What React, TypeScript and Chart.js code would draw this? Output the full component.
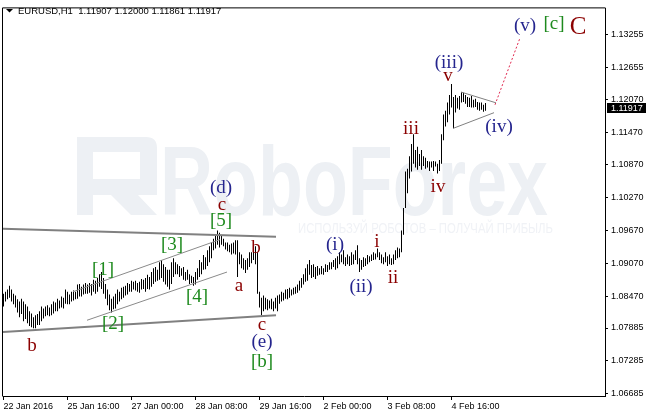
import React, { useEffect, useRef } from "react";
import { Chart, registerables } from "chart.js";

Chart.register(...registerables);

// ---------- data ----------
const symbol = "EURUSD,H1";
const lastQuote = [1.11907, 1.12, 1.11861, 1.11917];
const currentPrice = 1.11917;

const barHighs = [
  1.0851, 1.0855, 1.0859, 1.0866, 1.0859, 1.0851, 1.0848, 1.0841, 1.0837, 1.0842,
  1.0837, 1.0832, 1.0828, 1.0819, 1.0815, 1.0808, 1.0812, 1.0814, 1.0819, 1.0828,
  1.0824, 1.0828, 1.083, 1.0826, 1.0832, 1.0837, 1.0835, 1.0842, 1.0839, 1.0846,
  1.0844, 1.0859, 1.0855, 1.085, 1.0855, 1.0857, 1.0855, 1.0868, 1.0869, 1.0864,
  1.0868, 1.0871, 1.0868, 1.0871, 1.0869, 1.0877, 1.0875, 1.088, 1.0887, 1.0891,
  1.088, 1.0869, 1.0859, 1.085, 1.0842, 1.0846, 1.0851, 1.0859, 1.0855, 1.0862,
  1.0864, 1.0866, 1.0871, 1.0869, 1.0875, 1.0873, 1.0875, 1.0871, 1.0873, 1.0878,
  1.0877, 1.088, 1.0886, 1.0882, 1.0891, 1.0898, 1.09, 1.0895, 1.0909, 1.0913,
  1.0905, 1.09, 1.0895, 1.0895, 1.0909, 1.0916, 1.0909, 1.0905, 1.0902, 1.0898,
  1.09, 1.0891, 1.0895, 1.0887, 1.0884, 1.0882, 1.0891, 1.0898, 1.0913, 1.0909,
  1.0922, 1.0918, 1.0931, 1.0938, 1.0945, 1.0952, 1.0959, 1.0967, 1.0963, 1.0958,
  1.0952, 1.0945, 1.0945, 1.0941, 1.0943, 1.0945, 1.0949, 1.0949, 1.0927, 1.0923,
  1.0916, 1.0913, 1.0916, 1.0927, 1.0927, 1.0936, 1.0938, 1.0927, 1.0855, 1.0844,
  1.0848, 1.0844, 1.0841, 1.0839, 1.0842, 1.0837, 1.0844, 1.0848, 1.085, 1.0855,
  1.0853, 1.0859, 1.086, 1.0862, 1.0859, 1.0862, 1.0864, 1.0868, 1.0875, 1.088,
  1.0887, 1.0898, 1.0905, 1.0913, 1.0904, 1.0905, 1.09, 1.0902, 1.0898, 1.0902,
  1.0898, 1.0905, 1.0904, 1.0909, 1.0909, 1.0913, 1.0916, 1.092, 1.0927, 1.0923,
  1.0931, 1.0918, 1.0923, 1.092, 1.0927, 1.0923, 1.0931, 1.094, 1.0916, 1.0913,
  1.0918, 1.0916, 1.0922, 1.092, 1.0923, 1.0927, 1.0925, 1.0934, 1.0927, 1.0923,
  1.0918, 1.0927, 1.092, 1.0923, 1.0916, 1.0923, 1.0931, 1.0936, 1.0934, 1.0967,
  1.1008, 1.1075, 1.108, 1.1103, 1.1125, 1.1143, 1.1114, 1.112, 1.1107, 1.1114,
  1.1103, 1.11, 1.1094, 1.1093, 1.1093, 1.1094, 1.1093, 1.1089, 1.1096, 1.1143,
  1.1179, 1.1186, 1.1201, 1.1215, 1.1235, 1.1211, 1.1215, 1.121, 1.1213, 1.122,
  1.1219, 1.1215, 1.1211, 1.121, 1.1213, 1.1206, 1.1208, 1.1202, 1.1201, 1.1201,
  1.1197, 1.12,
];

const barLows = [
  1.0828, 1.0837, 1.0841, 1.0844, 1.0837, 1.0832, 1.0826, 1.0817, 1.0808, 1.0814,
  1.0801, 1.0805, 1.0797, 1.0792, 1.079, 1.0788, 1.0788, 1.0794, 1.0794, 1.0801,
  1.0806, 1.081, 1.0812, 1.081, 1.0812, 1.0815, 1.0819, 1.0819, 1.0824, 1.0826,
  1.0824, 1.0833, 1.0832, 1.0832, 1.0837, 1.0839, 1.0841, 1.0842, 1.0846, 1.0846,
  1.085, 1.0851, 1.0851, 1.0853, 1.0848, 1.0855, 1.0851, 1.0855, 1.0864, 1.086,
  1.0851, 1.0842, 1.083, 1.0821, 1.0817, 1.0823, 1.0824, 1.0832, 1.0837, 1.0841,
  1.0844, 1.0848, 1.085, 1.0855, 1.0855, 1.0859, 1.0857, 1.0855, 1.0853, 1.0859,
  1.086, 1.0855, 1.086, 1.0859, 1.0864, 1.0869, 1.0873, 1.0875, 1.0877, 1.088,
  1.0873, 1.0868, 1.0864, 1.0859, 1.0869, 1.0882, 1.0887, 1.0887, 1.0882, 1.0884,
  1.0877, 1.0875, 1.0877, 1.0869, 1.0871, 1.0866, 1.0868, 1.0877, 1.0882, 1.0887,
  1.0895, 1.0896, 1.0902, 1.0909, 1.0916, 1.0931, 1.0934, 1.0941, 1.0936, 1.0941,
  1.0938, 1.0932, 1.0929, 1.0927, 1.0923, 1.0925, 1.0923, 1.0882, 1.0905, 1.0898,
  1.0895, 1.0889, 1.0895, 1.09, 1.0907, 1.0913, 1.0905, 1.0851, 1.0826, 1.0812,
  1.0819, 1.0823, 1.0821, 1.0824, 1.0823, 1.0819, 1.0824, 1.0819, 1.0833, 1.0837,
  1.0839, 1.0842, 1.0841, 1.0844, 1.0848, 1.085, 1.0851, 1.0853, 1.0857, 1.0862,
  1.0868, 1.0873, 1.0875, 1.0886, 1.088, 1.0882, 1.0878, 1.0884, 1.0886, 1.0887,
  1.0886, 1.0891, 1.0891, 1.0895, 1.0896, 1.09, 1.0895, 1.0898, 1.0905, 1.0909,
  1.0905, 1.0902, 1.0905, 1.0902, 1.0904, 1.0905, 1.0913, 1.0905, 1.0891, 1.0895,
  1.09, 1.0902, 1.0905, 1.0909, 1.0911, 1.0913, 1.0914, 1.0918, 1.0913, 1.0907,
  1.0905, 1.0909, 1.0902, 1.0905, 1.0904, 1.0905, 1.0913, 1.0916, 1.0918, 1.0927,
  1.0959, 1.1008, 1.1035, 1.1062, 1.1075, 1.1089, 1.1082, 1.1078, 1.1085, 1.1078,
  1.1085, 1.108, 1.1082, 1.1076, 1.1082, 1.1076, 1.1084, 1.1071, 1.1076, 1.1089,
  1.1132, 1.1157, 1.1165, 1.1179, 1.1192, 1.1154, 1.1183, 1.119, 1.1188, 1.1201,
  1.1202, 1.1199, 1.1193, 1.1193, 1.1192, 1.1192, 1.1193, 1.1188, 1.1186, 1.1188,
  1.1184, 1.1186,
];

const yTickValues = [
  1.13255, 1.12655, 1.1207, 1.1147, 1.1087, 1.1027, 1.0967, 1.0907, 1.0847, 1.07885,
  1.07285, 1.06685,
];
const xTickIndex = [0, 32, 64, 96, 128, 160, 192, 224];
const xTickLabels = [
  "22 Jan 2016",
  "25 Jan 16:00",
  "27 Jan 00:00",
  "28 Jan 08:00",
  "29 Jan 16:00",
  "2 Feb 00:00",
  "3 Feb 08:00",
  "4 Feb 16:00",
];
const yMin = 1.06641;
const yMax = 1.13733;
const xMin = -0.25;
const xMax = 300.75;

// trend lines (bar index, price)
const triangleTopLine = [{ x: -0.25, y: 1.09701 }, { x: 136.25, y: 1.09557 }];
const triangleBottomLine = [{ x: -0.25, y: 1.07811 }, { x: 136.25, y: 1.08117 }];
const channelTopLine = [{ x: 34.75, y: 1.08549 }, { x: 108.25, y: 1.09503 }];
const channelBottomLine = [{ x: 41.75, y: 1.08027 }, { x: 111.75, y: 1.08909 }];
const smallTriTop = [{ x: 228.75, y: 1.12203 }, { x: 246.25, y: 1.12005 }];
const smallTriBottom = [{ x: 224.75, y: 1.11537 }, { x: 245.25, y: 1.11825 }];
const forecastPath = [{ x: 245.75, y: 1.11969 }, { x: 258.25, y: 1.13193 }];

const NAVY = "#25258e";
const RED = "#8b0000";
const GREEN = "#1e8a1e";

const waveText = ["b", "[1]", "[2]", "[3]", "[4]", "[5]", "c", "(d)", "a", "b", "c", "(e)", "[b]", "(i)", "i", "(ii)", "ii", "iii", "iv", "(iii)", "v", "(iv)", "(v)", "[c]", "C"];
const waveX = [14.25, 49.75, 54.75, 84.25, 96.75, 108.75, 109.25, 108.75, 117.75, 126.25, 129.25, 129.25, 129.25, 165.75, 186.75, 178.75, 194.75, 203.75, 217.25, 222.75, 222.25, 247.75, 260.75, 275.25, 287.25];
const waveY = [1.07577, 1.08945, 1.07955, 1.09395, 1.08459, 1.09845, 1.10133, 1.10439, 1.08639, 1.09377, 1.07937, 1.07613, 1.07271, 1.09395, 1.09485, 1.08621, 1.08819, 1.11555, 1.10493, 1.12725, 1.12491, 1.11555, 1.13409, 1.13445, 1.13427];
const waveColor = [RED, GREEN, GREEN, GREEN, GREEN, GREEN, RED, NAVY, RED, RED, RED, NAVY, GREEN, NAVY, RED, NAVY, RED, RED, RED, NAVY, RED, NAVY, NAVY, GREEN, RED];

const SANS = '"Liberation Sans", Arial, sans-serif';
const SERIF = '"Liberation Serif", "Times New Roman", serif';

const decorPlugin = {
  id: "decor",
  beforeDatasetsDraw(chart: any) {
    const ctx = chart.ctx;
    ctx.save();
    ctx.fillStyle = "#edf0f4";
    ctx.beginPath();
    ctx.moveTo(77, 137);
    ctx.lineTo(146, 137);
    ctx.quadraticCurveTo(157, 137, 157, 148);
    ctx.lineTo(157, 195);
    ctx.lineTo(138, 195);
    ctx.lineTo(157, 215);
    ctx.lineTo(131, 215);
    ctx.lineTo(111, 195);
    ctx.lineTo(93, 195);
    ctx.lineTo(93, 215);
    ctx.lineTo(77, 215);
    ctx.closePath();
    ctx.moveTo(93, 152);
    ctx.lineTo(140, 152);
    ctx.lineTo(140, 179);
    ctx.lineTo(93, 179);
    ctx.closePath();
    ctx.fill("evenodd");
    ctx.font = `bold 98px ${SANS}`;
    ctx.textAlign = "left";
    ctx.textBaseline = "alphabetic";
    ctx.fillText("RoboForex", 160, 215, 388);
    ctx.fillStyle = "#f0f2f6";
    ctx.font = `14px ${SANS}`;
    ctx.fillText("ИСПОЛЬЗУЙ РОБОТОВ – ПОЛУЧАЙ ПРИБЫЛЬ", 298, 233, 255);
    ctx.restore();
  },
  afterDatasetsDraw(chart: any) {
    const ctx = chart.ctx;
    const xs = chart.scales.x;
    const ys = chart.scales.y;
    ctx.save();
    ctx.textAlign = "center";
    ctx.textBaseline = "alphabetic";
    waveText.forEach((t, i) => {
      const size = t === "C" ? 25 : 19;
      ctx.font = `${size}px ${SERIF}`;
      ctx.fillStyle = waveColor[i];
      const m = ctx.measureText(t);
      const px = xs.getPixelForValue(waveX[i]);
      const py = ys.getPixelForValue(waveY[i]) + (m.actualBoundingBoxAscent - m.actualBoundingBoxDescent) / 2;
      ctx.fillText(t, px, py);
    });
    ctx.restore();
  },
  afterDraw(chart: any) {
    const ctx = chart.ctx;
    const { left, top, right, bottom } = chart.chartArea;
    ctx.save();
    ctx.strokeStyle = "#000";
    ctx.lineWidth = 1;
    ctx.beginPath();
    ctx.moveTo(left - 0.5, bottom + 0.5);
    ctx.lineTo(left - 0.5, top - 0.5);
    ctx.lineTo(right + 0.5, top - 0.5);
    ctx.stroke();
    // current price box
    const py = chart.scales.y.getPixelForValue(currentPrice);
    ctx.fillStyle = "#000";
    ctx.fillRect(right + 2, Math.round(py) - 5, 646 - right - 2, 10);
    ctx.fillStyle = "#fff";
    ctx.font = `9px ${SANS}`;
    ctx.textAlign = "left";
    ctx.textBaseline = "middle";
    ctx.fillText(currentPrice.toFixed(5), right + 6, Math.round(py) + 0.5);
    // title
    ctx.fillStyle = "#000";
    ctx.beginPath();
    ctx.moveTo(6, 9);
    ctx.lineTo(13, 9);
    ctx.lineTo(9.5, 12.5);
    ctx.closePath();
    ctx.fill();
    ctx.textBaseline = "alphabetic";
    ctx.font = `9.5px ${SANS}`;
    ctx.fillText(`${symbol}  ${lastQuote.map((v) => v.toFixed(5)).join(" ")}`, 18, 14);
    ctx.restore();
  },
};

const lineDs = (data: any[], color: string, width: number, dash: number[] = []) => ({
  type: "line" as const,
  data,
  borderColor: color,
  borderWidth: width,
  borderDash: dash,
  pointRadius: 0,
  fill: false,
  tension: 0,
  order: 0,
});

export default function App() {
  const ref = useRef<HTMLCanvasElement | null>(null);
  useEffect(() => {
    document.body.style.margin = "0";
    const canvas = ref.current;
    if (!canvas) return;
    const tickFont = { family: SANS, size: 9 };
    const chart = new Chart(canvas, {
      type: "bar",
      data: {
        datasets: [
          {
            type: "bar",
            data: barHighs.map((h, i) => ({ x: i, y: [barLows[i], h] })) as any,
            backgroundColor: "#000",
            borderWidth: 0,
            barThickness: 1,
            inflateAmount: 0,
            order: 1,
          } as any,
          lineDs(triangleTopLine, "#808080", 2),
          lineDs(triangleBottomLine, "#808080", 2),
          lineDs(channelTopLine, "#8a8a8a", 1),
          lineDs(channelBottomLine, "#8a8a8a", 1),
          lineDs(smallTriTop, "#808080", 1),
          lineDs(smallTriBottom, "#808080", 1),
          lineDs(forecastPath, "#e0284f", 1, [2, 2]),
        ],
      },
      options: {
        responsive: false,
        animation: false,
        events: [],
        layout: { padding: { left: 3, top: 2, right: 0, bottom: 0 } },
        plugins: { legend: { display: false }, tooltip: { enabled: false } },
        scales: {
          x: {
            type: "linear",
            min: xMin,
            max: xMax,
            offset: false,
            afterBuildTicks: (s: any) => {
              s.ticks = xTickIndex.map((v) => ({ value: v }));
            },
            afterFit: (s: any) => {
              s.height = 18;
            },
            ticks: {
              callback: (v: any) => xTickLabels[xTickIndex.indexOf(Number(v))],
              align: "start",
              maxRotation: 0,
              minRotation: 0,
              autoSkip: false,
              font: tickFont,
              color: "#000",
              padding: 1,
            },
            grid: { drawOnChartArea: false, drawTicks: true, tickLength: 4, color: "#000", offset: false },
            border: { display: true, color: "#000" },
          },
          y: {
            type: "linear",
            position: "right",
            min: yMin,
            max: yMax,
            afterBuildTicks: (s: any) => {
              s.ticks = yTickValues.map((v) => ({ value: v }));
            },
            afterFit: (s: any) => {
              s.width = 41;
            },
            ticks: {
              callback: (v: any) => Number(v).toFixed(5),
              autoSkip: false,
              font: tickFont,
              color: "#000",
              padding: 3,
            },
            grid: { drawOnChartArea: false, drawTicks: true, tickLength: 3, color: "#000" },
            border: { display: true, color: "#000" },
          },
        },
      } as any,
      plugins: [decorPlugin],
    });
    return () => chart.destroy();
  }, []);
  return (
    <div style={{ position: "absolute", left: 0, top: 0, width: 646, height: 414, background: "#fff" }}>
      <canvas ref={ref} width={646} height={414} style={{ display: "block" }} />
    </div>
  );
}
